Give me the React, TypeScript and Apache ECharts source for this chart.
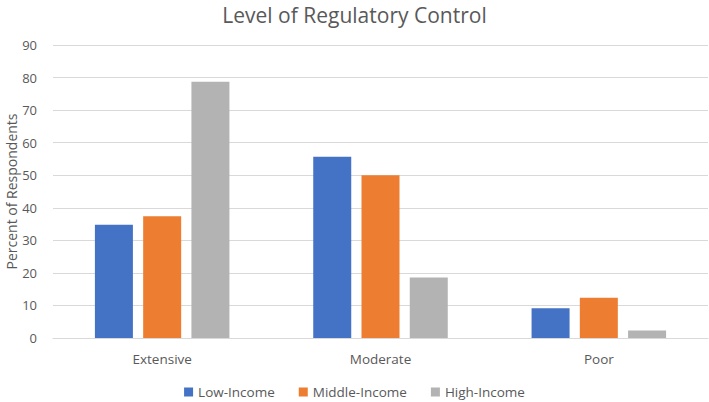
import React, { useEffect, useRef } from "react";
import * as echarts from "echarts";

const categories = ["Extensive", "Moderate", "Poor"];
const lowIncome = [34.8, 55.7, 9.1];
const middleIncome = [37.4, 50.0, 12.4];
const highIncome = [78.7, 18.6, 2.3];
const seriesNames = ["Low-Income", "Middle-Income", "High-Income"];
const colors = ["#4472C4", "#ED7D31", "#B3B3B3"];

export default function App() {
  const ref = useRef<HTMLDivElement>(null);
  useEffect(() => {
    if (!ref.current) return;
    const chart = echarts.init(ref.current, undefined, { renderer: "svg" });
    const font = "'Open Sans', sans-serif";
    const data = [lowIncome, middleIncome, highIncome];
    chart.setOption({
      animation: false,
      textStyle: { fontFamily: font },
      title: {
        text: "Level of Regulatory Control",
        left: "center",
        top: -1,
        textStyle: { fontFamily: font, fontSize: 21, fontWeight: "normal", color: "#595959" },
      },
      legend: {
        top: 380,
        left: "center",
        itemWidth: 9,
        itemHeight: 9,
        itemGap: 24,
        icon: "rect",
        textStyle: { fontFamily: font, fontSize: 13.5, color: "#595959" },
        data: seriesNames,
      },
      grid: { left: 53, right: 1, top: 45, bottom: 64, containLabel: false, outerBoundsMode: "none" },
      xAxis: {
        type: "category",
        data: categories,
        axisLine: { lineStyle: { color: "#d9d9d9" } },
        axisTick: { show: false },
        axisLabel: { fontFamily: font, fontSize: 13.5, color: "#595959", margin: 14 },
      },
      yAxis: {
        type: "value",
        min: 0,
        max: 90,
        interval: 10,
        name: "Percent of Respondents",
        nameLocation: "middle",
        nameGap: 35,
        nameMoveOverlap: false,
        nameRotate: 90,
        nameTextStyle: { fontFamily: font, fontSize: 14, color: "#595959" },
        axisLine: { show: false },
        axisTick: { show: false },
        axisLabel: { fontFamily: font, fontSize: 13, color: "#595959", margin: 16 },
        splitLine: { lineStyle: { color: "#d9d9d9", width: 1 } },
      },
      series: seriesNames.map((name, i) => ({
        name,
        type: "bar",
        data: data[i],
        barWidth: 38,
        barGap: "27%",
        barCategoryGap: "38%",
        itemStyle: { color: colors[i] },
      })),
    });
    return () => chart.dispose();
  }, []);
  return <div ref={ref} style={{ width: 709, height: 402, position: "absolute", left: 0, top: 0, background: "#fff" }} />;
}
